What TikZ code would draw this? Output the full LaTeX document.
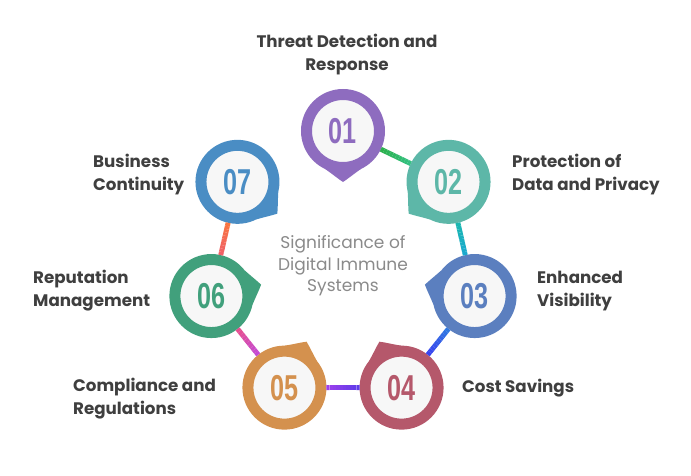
\documentclass[tikz,border=0pt]{standalone}
\usepackage{fontspec}
\setmainfont{Poppins}
\newfontfamily\numfont{Liberation Sans}
\usetikzlibrary{calc}

\definecolor{c1}{HTML}{8E6CBF}
\definecolor{c2}{HTML}{5DB7A8}
\definecolor{c3}{HTML}{5B7FBF}
\definecolor{c4}{HTML}{B5586B}
\definecolor{c5}{HTML}{D4914E}
\definecolor{c6}{HTML}{41A07C}
\definecolor{c7}{HTML}{4A8DC4}
\definecolor{inner}{HTML}{F7F7F7}
\definecolor{lbltext}{HTML}{3F3F3F}
\definecolor{midtext}{HTML}{8A8A8A}
% connector ends
\definecolor{g1}{HTML}{2BB04A}
\definecolor{g2}{HTML}{35C285}
\definecolor{t1}{HTML}{1BB8B0}
\definecolor{t2}{HTML}{1AA8D0}
\definecolor{b1}{HTML}{2E7BE0}
\definecolor{b2}{HTML}{3A40F0}
\definecolor{v1}{HTML}{5B3BE8}
\definecolor{v2}{HTML}{A040EC}
\definecolor{m1}{HTML}{C24BD8}
\definecolor{m2}{HTML}{E8508C}
\definecolor{o1}{HTML}{F0606A}
\definecolor{o2}{HTML}{F8763F}

\tikzset{
  ring/.style={circle, draw=#1, line width=11pt, fill=inner, minimum size=73pt,
    inner sep=0pt, text=#1, font=\numfont\bfseries\fontsize{36}{36}\selectfont},
  lbl/.style={font=\bfseries\fontsize{16.7}{23}\selectfont, text=lbltext,
    align=left, anchor=west, inner sep=0pt},
}

\begin{document}
\begin{tikzpicture}[x=1pt,y=1pt]
  \useasboundingbox (0,0) rectangle (691,-475);
  \coordinate (mid) at (343,-266);

  % pins round the heptagon
  \foreach \k/\col in {1/c1,2/c2,3/c3,4/c4,5/c5,6/c6,7/c7} {
    \pgfmathsetmacro\ang{90-(\k-1)*360/7}
    \coordinate (m\k) at ($(mid)+(\ang:135)$);
    \fill[\col, shift={(m\k)}, rotate=\ang+180]
      (25:42) .. controls (12:45) and (6:48) .. (0:51)
      .. controls (-6:48) and (-12:45) .. (-25:42) -- cycle;
    \node[ring=\col] (p\k) at (m\k) {\scalebox{0.7}[1]{0\k}};
  }

  % connectors
  \foreach \a/\b/\ca/\cb in {1/2/g1/g2,2/3/t1/t2,3/4/b1/b2,4/5/v1/v2,5/6/m1/m2,6/7/o1/o2} {
    \path (p\a) -- (p\b) coordinate[pos=0] (s) coordinate[pos=1] (e);
    \foreach \i in {0,...,9} {
      \pgfmathtruncatemacro\pc{95-10*\i}
      \draw[line width=5pt, \ca!\pc!\cb] ($(s)!\i/10!(e)$) -- ($(s)!\i/10+0.1!(e)$);
    }
  }

  \node[font=\fontsize{17}{21.5}\selectfont, text=midtext, align=center] (title)
    at (mid) {Significance of\\Digital Immune\\Systems};

  \node[lbl, align=center, anchor=center] (l1) at (347,-55) {Threat Detection and\\Response};
  \node[lbl] (l2) at (512,-175) {Protection of\\Data and Privacy};
  \node[lbl] (l3) at (537,-291) {Enhanced\\Visibility};
  \node[lbl] (l4) at (462,-388) {Cost Savings};
  \node[lbl] (l5) at (73,-399) {Compliance and\\Regulations};
  \node[lbl] (l6) at (33,-291) {Reputation\\Management};
  \node[lbl] (l7) at (93,-175) {Business\\Continuity};
\end{tikzpicture}
\end{document}
